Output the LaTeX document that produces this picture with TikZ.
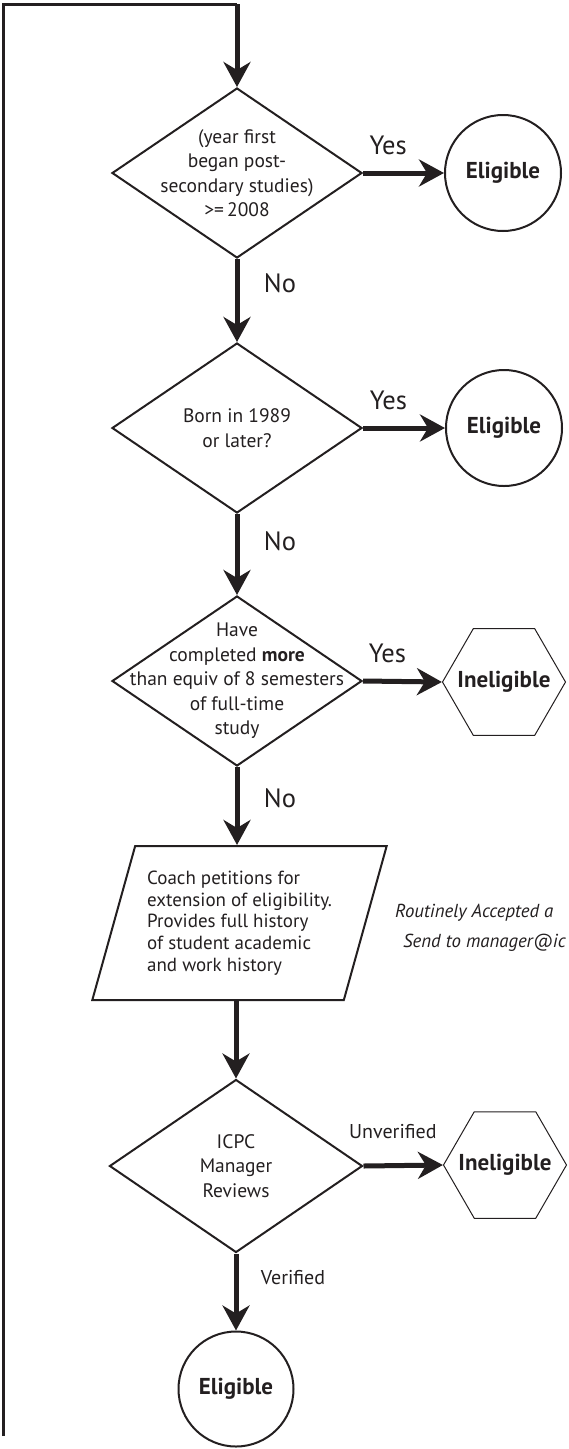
\documentclass[tikz,border=0pt]{standalone}
\usepackage{fontspec}
\setmainfont{PT Sans}
\usetikzlibrary{arrows.meta,positioning,shapes.geometric}
\definecolor{ink}{RGB}{35,31,32}

\begin{document}
\begin{tikzpicture}[x=1pt, y=-1pt, >={Stealth[length=25pt, width=27pt, inset=8pt]},
  decision/.style={diamond, draw=ink, line width=2pt, minimum width=250pt,
                   minimum height=170pt, inner sep=0pt},
  qtext/.style={align=center, inner sep=0pt, text=ink, font=\fontsize{19.5}{24.5}\selectfont},
  okcircle/.style={circle, draw=ink, line width=2pt, minimum size=116pt, inner sep=0pt,
                   text=ink, font=\fontsize{23}{26}\selectfont\bfseries},
  stophex/.style={regular polygon, regular polygon sides=6, draw=ink, line width=1pt,
                  minimum size=123pt, inner sep=0pt},
  hextext/.style={inner sep=0pt, text=ink, font=\fontsize{23}{26}\selectfont\bfseries},
  petition/.style={trapezium, trapezium left angle=70, trapezium right angle=110,
                   trapezium stretches=true, draw=ink, line width=2pt, minimum width=295pt,
                   minimum height=154pt, inner sep=0pt, align=left, text=ink,
                   font=\fontsize{19}{21.7}\selectfont},
  flow/.style={->, line width=5pt, draw=ink},
  answer/.style={inner sep=0pt, text=ink, font=\fontsize{26.5}{30}\selectfont},
  review/.style={inner sep=0pt, text=ink, font=\fontsize{20}{24}\selectfont}]
  \useasboundingbox (0,0) rectangle (569,1449);

  % question 1: start of studies
  \node[decision] (q1) at (237,173) {};
  \node[qtext] (q1t) at (q1) {(year first\\ began post-\\ secondary studies)\\ >=\,2008};
  \node[okcircle] (ok1) at (503,173) {Eligible};
  \draw[flow] (q1.east) -- node[answer, pos=0.31, yshift=28pt] (y1) {Yes} (ok1.west);

  % question 2: birth year
  \node[decision] (q2) at (237,428) {};
  \node[qtext] (q2t) at (q2) {Born in 1989\\ or later?};
  \node[okcircle] (ok2) at (504,428) {Eligible};
  \draw[flow] (q2.east) -- node[answer, pos=0.31, yshift=28pt] (y2) {Yes} (ok2.west);
  \draw[flow] (q1.south) -- node[answer, pos=0.29, xshift=43pt] (n1) {No} (q2.north);

  % question 3: semesters
  \node[decision] (q3) at (237,681) {};
  \node[qtext] (q3t) at (q3) {Have\\ completed \textbf{more}\\ than equiv of 8 semesters\\
                              of full-time\\ study};
  \node[stophex] (no3) at (504,682) {};
  \node[hextext] (no3t) at (no3) {Ineligible};
  \draw[flow] (q3.east) -- node[answer, pos=0.31, yshift=28pt] (y3) {Yes} (no3.west);
  \draw[flow] (q2.south) -- node[answer, pos=0.33, xshift=43pt] (n2) {No} (q3.north);

  % petition by coach
  \node[petition] (para) at (239.5,923) {Coach petitions for\\ extension of eligibility.\\
        Provides full history\\ of student academic\\ and work history};
  \draw[flow] (q3.south) -- node[answer, pos=0.4, xshift=43pt] (n3) {No} (q3.south |- para.north);
  \node[inner sep=0pt, anchor=west, align=left, text=ink,
        font=\fontsize{18.8}{30}\selectfont\itshape] (rem) at (395,928)
        {Routinely Accepted a\\ \hspace*{8pt}Send to manager@ic};

  % manager review
  \node[decision, minimum width=253pt, minimum height=173pt] (q4) at (236,1166) {};
  \node[qtext] (q4t) at (q4) {ICPC\\ Manager\\ Reviews};
  \node[stophex] (no4) at (505,1165) {};
  \node[hextext] (no4t) at (no4) {Ineligible};
  \draw[flow] (para.south -| q4.north) -- (q4.north);
  \draw[flow] (q4.east) -- node[review, pos=0.37, yshift=34pt] (uv) {Unverified} (no4.west);
  \node[okcircle, minimum size=115pt] (ok3) at (236,1389) {Eligible};
  \draw[flow] (q4.south) -- node[review, pos=0.31, xshift=57pt] (vf) {Verified} (ok3.north);

  % loop back to the top
  \coordinate (loopend) at (3,1436);
  \coordinate (looptop) at (3,4);
  \coordinate (loopturn) at (237,4);
  \draw[ink, line width=3pt] (loopend) -- (looptop) -- (loopturn);
  \draw[flow] (loopturn) -- (q1.north);
\end{tikzpicture}
\end{document}
